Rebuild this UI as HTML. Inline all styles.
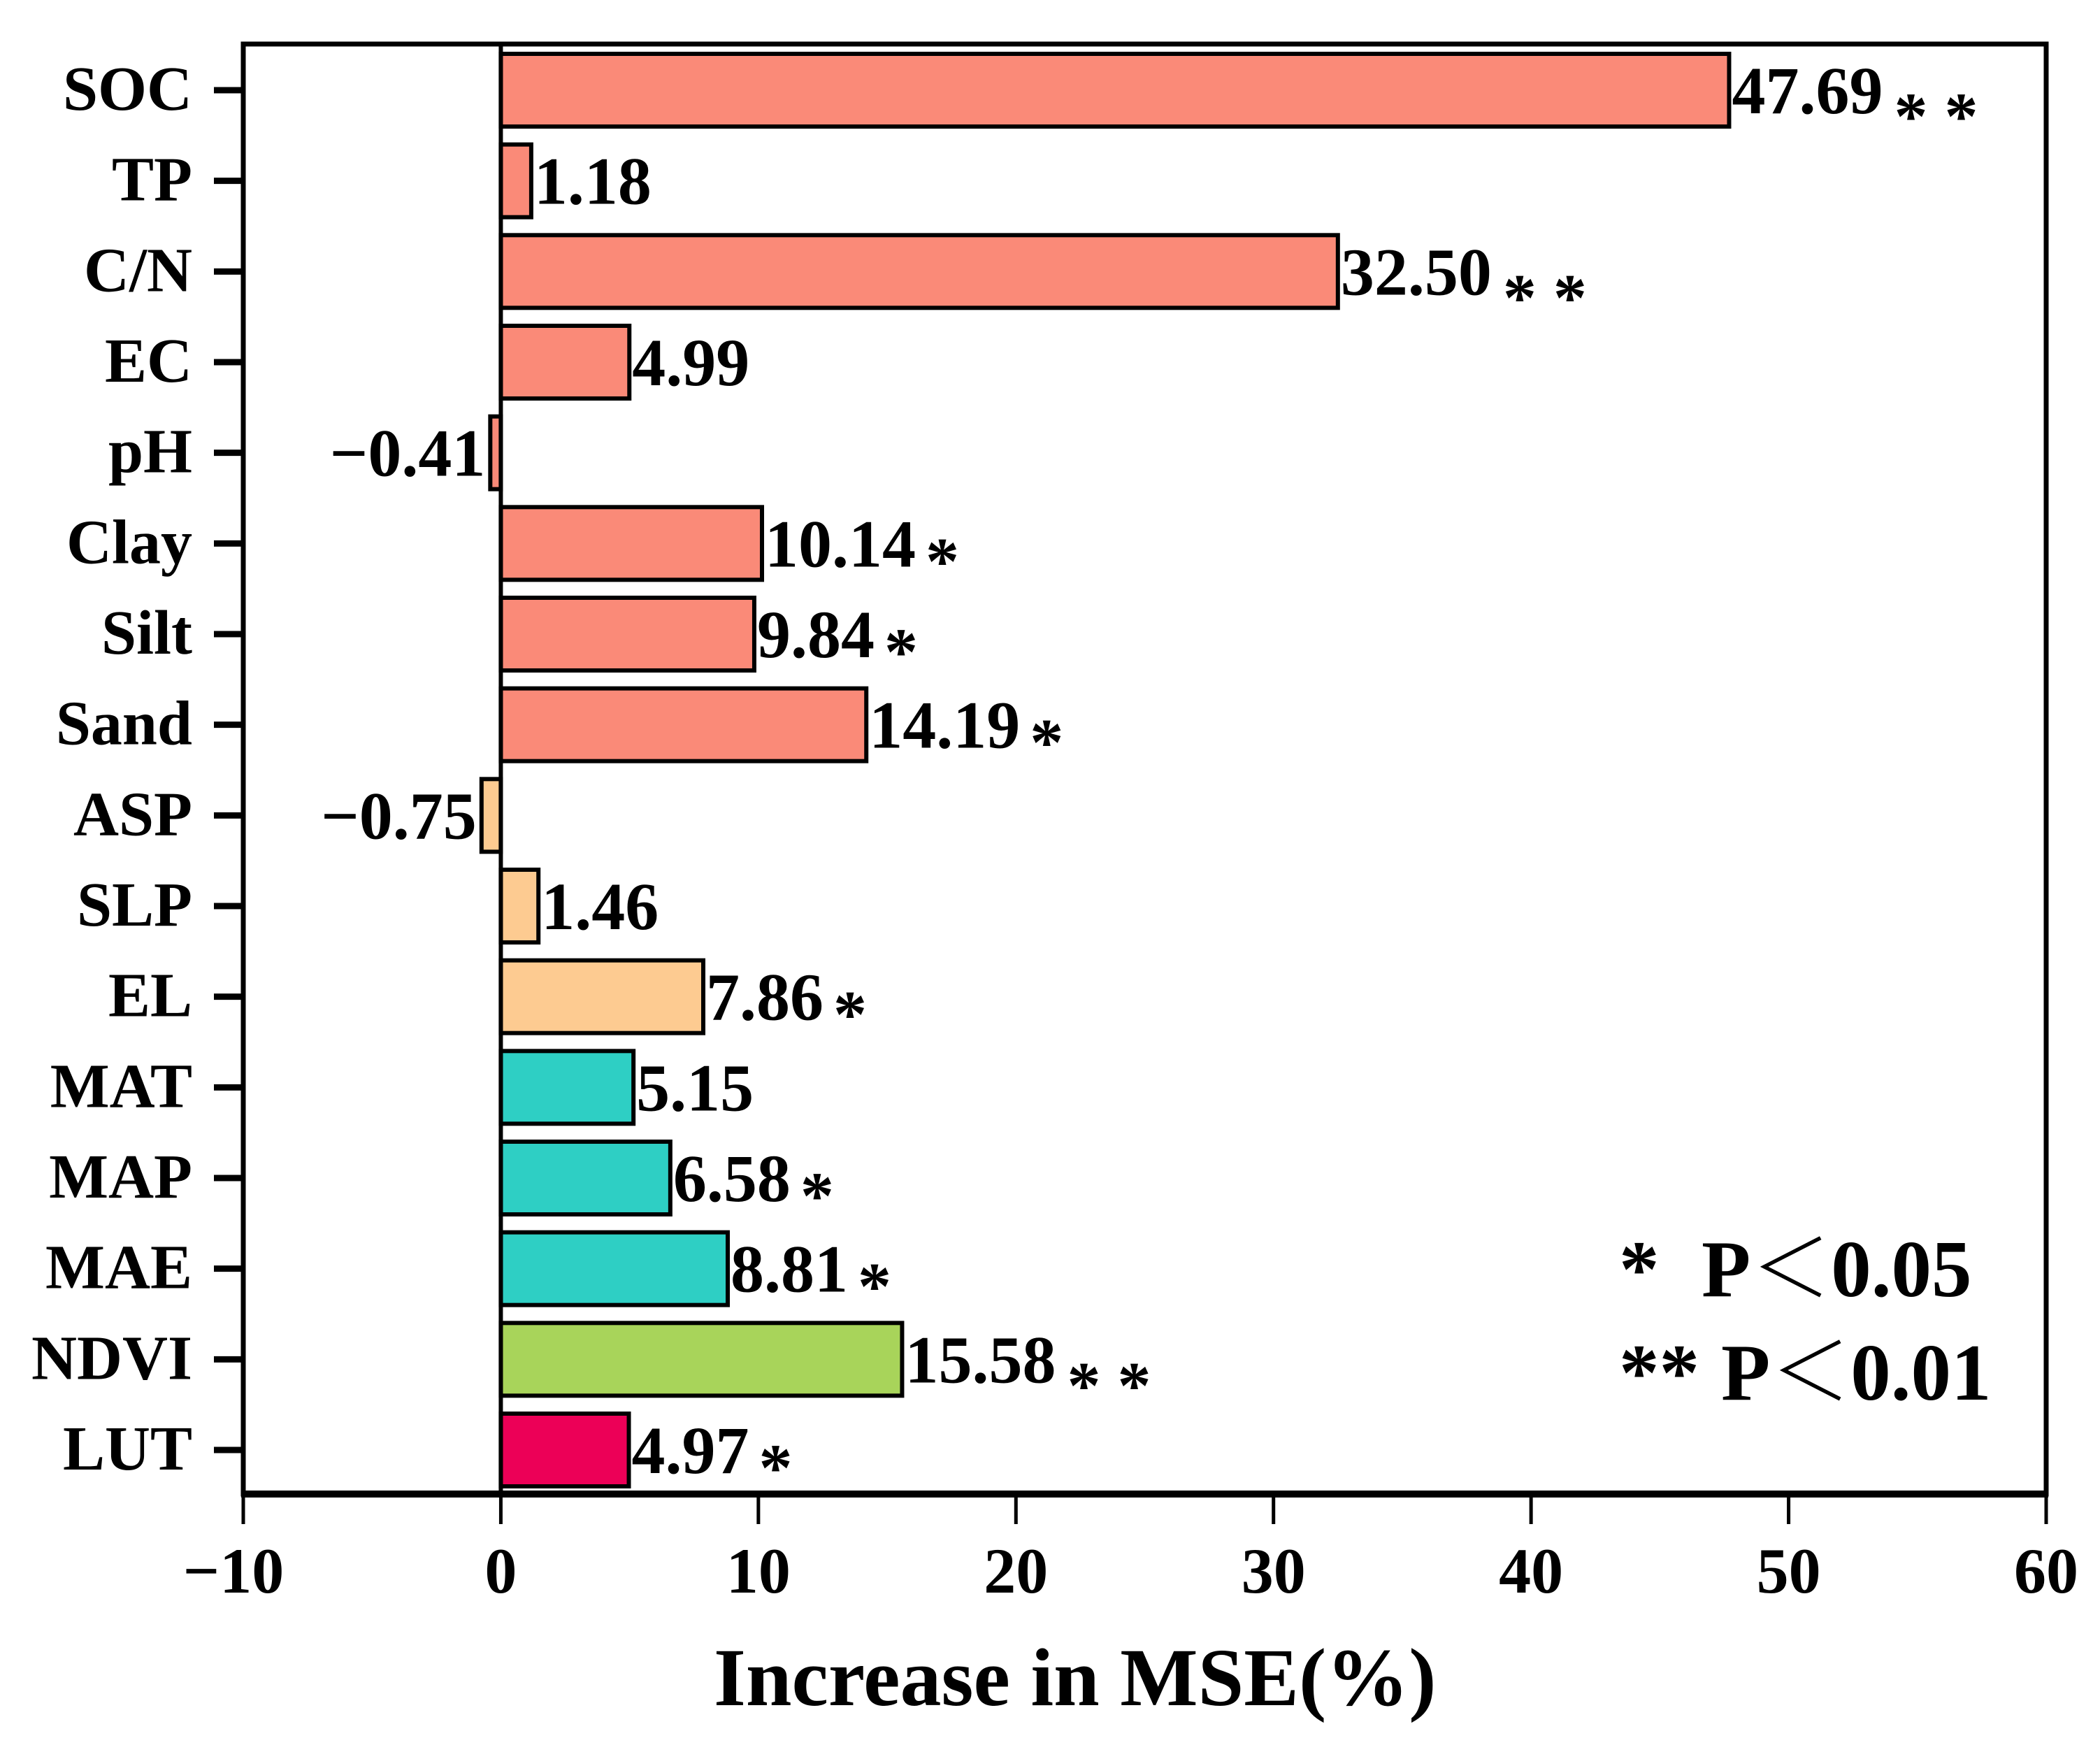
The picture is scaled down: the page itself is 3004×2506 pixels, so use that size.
<!DOCTYPE html>
<html><head><meta charset="utf-8">
<style>
html,body{margin:0;padding:0;background:#fff;}
svg{display:block;}
text{font-family:"Liberation Serif","Noto Serif CJK SC",serif;font-weight:bold;fill:#000;}
</style></head>
<body>
<svg id="chart" width="3004" height="2506" viewBox="0 0 3004 2506">
<rect x="0" y="0" width="3004" height="2506" fill="#fff"/>
<g id="bars"></g>
<g id="axes"></g>
<text x="1021" y="2439" font-size="118">Increase in MSE(%)</text>
<g>
  <text x="2316" y="1854" font-size="115">*<tspan x="2434">P＜0.05</tspan></text>
  <text x="2316" y="2002" font-size="115">**<tspan x="2462">P＜0.01</tspan></text>
</g>
</svg>
<script>
const categories = ["SOC","TP","C/N","EC","pH","Clay","Silt","Sand","ASP","SLP","EL","MAT","MAP","MAE","NDVI","LUT"];
const values = [47.69,1.18,32.50,4.99,-0.41,10.14,9.84,14.19,-0.75,1.46,7.86,5.15,6.58,8.81,15.58,4.97];
const signif = ["**","","**","","","*","*","*","","","*","","*","*","**","*"];
const groups = ["soil","soil","soil","soil","soil","soil","soil","soil","topo","topo","topo","climate","climate","climate","veg","land"];
const xTicks = [-10,0,10,20,30,40,50,60];

const colors = {soil:"#FA8A78",topo:"#FDCB91",climate:"#2ECFC4",veg:"#A8D45A",land:"#EC0057"};
const NS = "http://www.w3.org/2000/svg";
const L=348,R=2927,T=63,B=2137, xMin=-10,xMax=60;
const firstY=129, lastY=2074;
function xs(v){return L+(v-xMin)/(xMax-xMin)*(R-L);}
function ys(i){return firstY+i*(lastY-firstY)/(categories.length-1);}
function mk(tag,attrs,parent){const e=document.createElementNS(NS,tag);for(const k in attrs)e.setAttribute(k,attrs[k]);parent.appendChild(e);return e;}
const bars=document.getElementById('bars'), axes=document.getElementById('axes');
const bh=104;
function fmt(v){return (v<0?"\u2212":"")+Math.abs(v).toFixed(2);}
categories.forEach((c,i)=>{
  const v=values[i], y=ys(i);
  const x0=xs(Math.min(0,v)), x1=xs(Math.max(0,v));
  const r=mk('rect',{x:x0,y:y-bh/2,width:x1-x0,height:bh,fill:colors[groups[i]],stroke:"#000","stroke-width":6},bars);
  
  
  const t=mk('text',{"font-size":96,y:y+33},bars);
  
  
  t.textContent=fmt(v);
  if(v>=0){t.setAttribute('x',x1+4);}else{t.setAttribute('x',x0-7);t.setAttribute('text-anchor','end');}
  if(signif[i]){
    const w=t.getComputedTextLength();
    const endX=(v>=0?x1+4:x0-7)+w;
    const dbl=signif[i]==="**";
    const s=mk('text',{"font-size":96,x:endX+(dbl?16:14),y:y+(dbl?70:58)},bars);
    
    
    s.textContent=dbl?"* *":"*";
  }
  const tk=mk('line',{x1:306,x2:L,y1:y,y2:y,stroke:"#000","stroke-width":9},axes);
  
  
  const lb=mk('text',{x:275,y:y+28,"font-size":90,"text-anchor":"end"},axes);
  
  
  lb.textContent=c;
});
const zl=mk('line',{x1:xs(0),x2:xs(0),y1:T,y2:B,stroke:"#000","stroke-width":6},axes);


const fr=mk('rect',{x:L,y:T,width:R-L,height:B-T,fill:"none",stroke:"#000","stroke-width":7},axes);


const xa=mk('line',{x1:L-3,x2:R+3,y1:B,y2:B,stroke:"#000","stroke-width":10},axes);


xTicks.forEach(v=>{
  const tk=mk('line',{x1:xs(v),x2:xs(v),y1:B,y2:2180,stroke:"#000","stroke-width":5},axes);
  
  
  const lb=mk('text',{x:xs(v)-(v<0?14:0),y:2278,"font-size":92,"text-anchor":"middle"},axes);
  
  
  lb.textContent=(v<0?"\u2212":"")+Math.abs(v);
});
</script>
</body></html>
